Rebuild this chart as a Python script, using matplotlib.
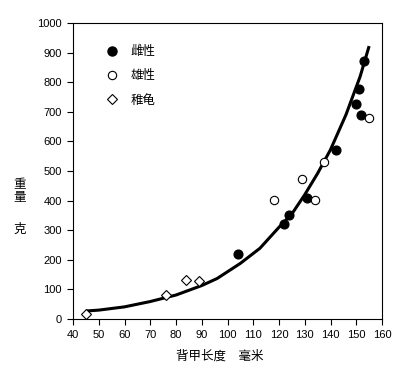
import matplotlib
matplotlib.use("Agg")
import matplotlib.pyplot as plt
from matplotlib.lines import Line2D

plt.rcParams['font.family'] = ['Liberation Sans', 'Noto Sans CJK SC', 'DejaVu Sans']

female_x = [104, 122, 124, 131, 142, 150, 151, 152, 153]
female_y = [220, 322, 350, 410, 570, 728, 776, 688, 870]
male_x = [118, 129, 134, 137.5, 155]
male_y = [403, 473, 403, 531, 680]
juv_x = [45, 76, 84, 89]
juv_y = [17, 81, 132, 128]
curve_x = [45, 50, 60, 70, 80, 90, 96, 105, 112.6, 120, 125, 130, 135, 140, 146, 151.5, 155]
curve_y = [27, 30, 41, 59, 81, 113, 137, 188, 239, 310, 355, 420, 492, 572, 690, 819, 922]

labels = ['雌性', '雄性', '稚龟']
xticks = list(range(40, 161, 10))
yticks = list(range(0, 1001, 100))

W, H = 400, 388
fig = plt.figure(figsize=(W / 100, H / 100), dpi=100)
ax = fig.add_axes([73 / W, (H - 319) / H, (382 - 73) / W, (319 - 23) / H])

ax.plot(curve_x, curve_y, color='black', lw=2.2, solid_capstyle='butt', solid_joinstyle='round', zorder=2)
ax.plot(female_x, female_y, 'o', ms=6.5, mfc='black', mec='black', mew=0.8, ls='none', zorder=3)
ax.plot(male_x, male_y, 'o', ms=6, mfc='white', mec='black', mew=0.8, ls='none', zorder=3)
ax.plot(juv_x, juv_y, 'D', ms=5, mfc='white', mec='black', mew=0.8, ls='none', zorder=3)

ax.set_xlim(40, 160)
ax.set_ylim(0, 1000)
ax.set_xticks(xticks)
ax.set_yticks(yticks)
ax.tick_params(direction='out', length=4, width=0.8, labelsize=8, pad=4)
for s in ax.spines.values():
    s.set_linewidth(0.8)

cjk = ['Noto Sans CJK SC', 'DejaVu Sans']
handles = [
    Line2D([], [], marker='o', ms=6.5, mfc='black', mec='black', ls='none'),
    Line2D([], [], marker='o', ms=6, mfc='white', mec='black', mew=0.8, ls='none'),
    Line2D([], [], marker='D', ms=5, mfc='white', mec='black', mew=0.8, ls='none'),
]
leg = ax.legend(handles, labels, loc='upper left', bbox_to_anchor=(0.07, 0.963), frameon=False,
                prop={'family': cjk, 'size': 9}, handletextpad=1.0, labelspacing=0.9,
                handlelength=1.0)

fig.text(20 / W, 1 - 191 / H, '重\n量', family=cjk, fontsize=9, ha='center', va='center', linespacing=1.0)
fig.text(20 / W, 1 - 229 / H, '克', family=cjk, fontsize=9, ha='center', va='center')
fig.text(220 / W, 1 - 356 / H, '背甲长度\u3000毫米', family=cjk, fontsize=9, ha='center', va='center')

fig.savefig('out.png', dpi=100)
